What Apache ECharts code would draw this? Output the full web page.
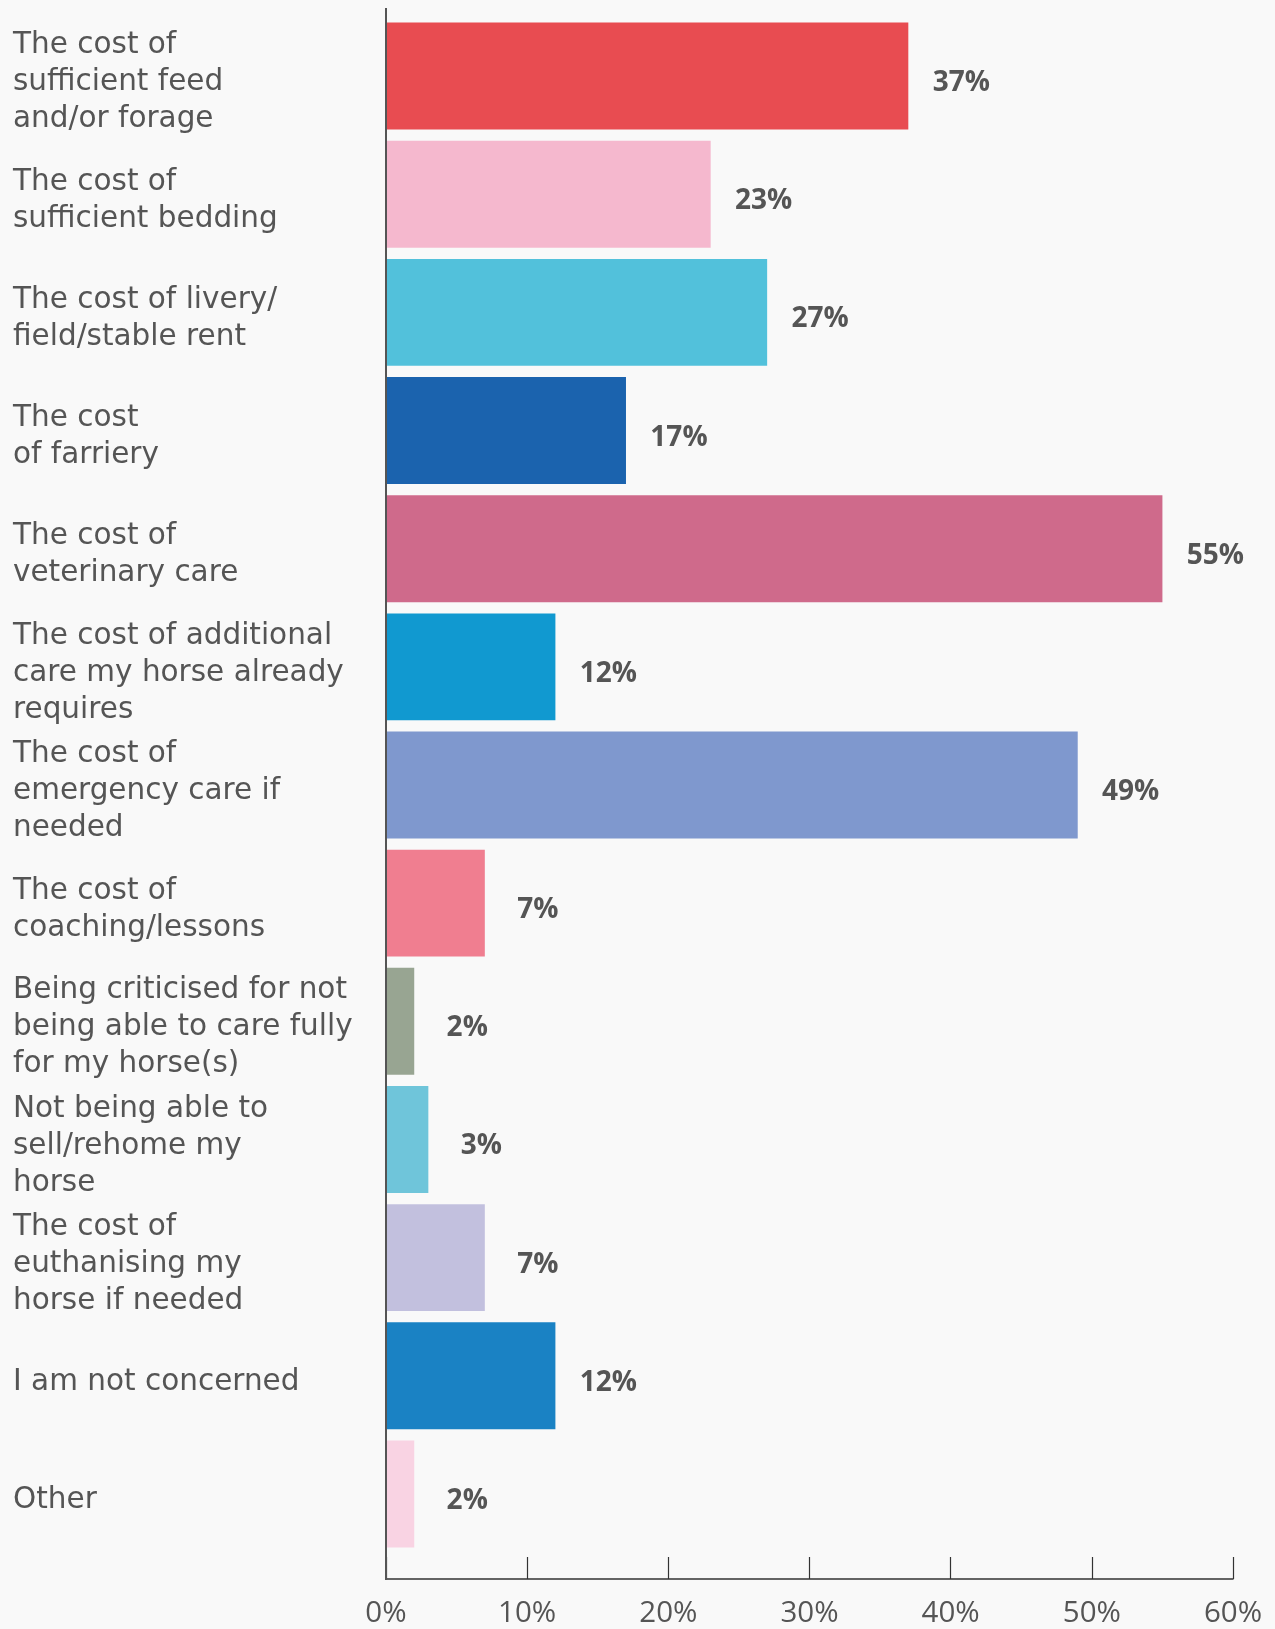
<!DOCTYPE html>
<html>
<head>
<meta charset="utf-8">
<style>
  html, body { margin: 0; padding: 0; background: #f9f9f9; }
  #chart { width: 1275px; height: 1629px; }
</style>
<script src="https://cdn.jsdelivr.net/npm/echarts@6/dist/echarts.min.js"></script>
</head>
<body>
<div id="chart"></div>
<script>
const categories = [
  'The cost of\nsufficient feed\nand/or forage',
  'The cost of\nsufficient bedding',
  'The cost of livery/\nfield/stable rent',
  'The cost\nof farriery',
  'The cost of\nveterinary care',
  'The cost of additional\ncare my horse already\nrequires',
  'The cost of\nemergency care if\nneeded',
  'The cost of\ncoaching/lessons',
  'Being criticised for not\nbeing able to care fully\nfor my horse(s)',
  'Not being able to\nsell/rehome my\nhorse',
  'The cost of\neuthanising my\nhorse if needed',
  'I am not concerned',
  'Other'
];
const values = [37, 23, 27, 17, 55, 12, 49, 7, 2, 3, 7, 12, 2];
const barColors = [
  '#e84c51', '#f5b8ce', '#52c1db', '#1b63ae', '#cf6a8b', '#1199d0', '#7f98ce',
  '#f07e90', '#98a592', '#6fc5da', '#c2c0de', '#1a82c4', '#f9d3e3'
];
const xTicks = [0, 10, 20, 30, 40, 50, 60];

const textColor = '#555555';
const labelFont = '"DejaVu Sans", sans-serif';
const numFont = '"Open Sans", sans-serif';

const chart = echarts.init(document.getElementById('chart'), null, { renderer: 'canvas' });

const gridLeft = 386;
const gridRight = 1275 - 1233;
const gridTop = 17;
const gridBottom = 1629 - 1554;

chart.setOption({
  backgroundColor: '#f9f9f9',
  animation: false,
  grid: { left: gridLeft, right: gridRight, top: gridTop, bottom: gridBottom, containLabel: false },
  xAxis: {
    type: 'value',
    min: xTicks[0],
    max: xTicks[xTicks.length - 1],
    interval: 10,
    offset: 26,
    axisLine: { show: true, lineStyle: { color: '#333', width: 1.5 } },
    axisTick: { show: true, inside: true, length: 22, lineStyle: { color: '#333', width: 1.2 } },
    splitLine: { show: false },
    axisLabel: {
      color: textColor,
      fontFamily: numFont,
      fontSize: 29.5,
      margin: 20,
      formatter: v => v + '%'
    }
  },
  yAxis: {
    type: 'category',
    inverse: true,
    data: categories,
    axisLine: { show: false },
    axisTick: { show: false },
    axisLabel: {
      align: 'left',
      margin: gridLeft - 13,
      // small spacer line on top pushes the block a bit lower, like the original
      formatter: v => '{s| }\n' + v.split('\n').map(l => '{t|' + l + '}').join('\n'),
      rich: {
        s: { fontSize: 1, lineHeight: 13, height: 13 },
        t: {
          color: textColor,
          fontFamily: labelFont,
          fontSize: 29.5,
          lineHeight: 37,
          align: 'left'
        }
      }
    }
  },
  series: [{
    type: 'bar',
    data: values.map((v, i) => ({ value: v, itemStyle: { color: barColors[i] } })),
    barWidth: '90.5%',
    label: {
      show: true,
      position: 'right',
      distance: 53,
      align: 'center',
      offset: [0, 7],
      color: textColor,
      fontFamily: numFont,
      fontWeight: 'bold',
      fontSize: 28,
      formatter: p => p.value + '%'
    }
  }],
  graphic: [{
    type: 'line',
    shape: { x1: gridLeft, y1: 8, x2: gridLeft, y2: 1580 },
    style: { stroke: '#555', lineWidth: 2 },
    z: 10
  }]
});
</script>
</body>
</html>
